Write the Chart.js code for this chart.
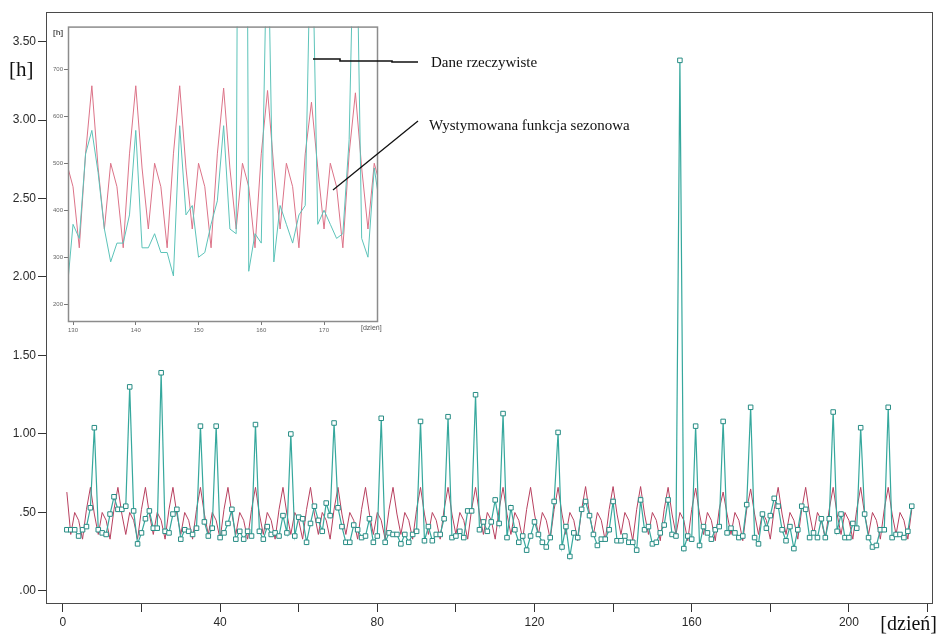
<!DOCTYPE html>
<html>
<head>
<meta charset="utf-8">
<script src="https://cdn.jsdelivr.net/npm/chart.js@4.4.1/dist/chart.umd.min.js"></script>
<style>
  html, body { margin: 0; padding: 0; background: #fff; }
  #wrap { position: relative; width: 940px; height: 637px; overflow: hidden; }
  #main { position: absolute; left: 0; top: 0; }
  #inset { position: absolute; left: 40px; top: 22px; }
  .lbl { position: absolute; white-space: nowrap; color: #111; font-family: "Liberation Serif", "Times New Roman", serif; }
  .small { font-family: "Liberation Sans", Arial, sans-serif; color: #555; }
  svg { position: absolute; left: 0; top: 0; }
</style>
</head>
<body>
<div id="wrap">
  <canvas id="main" width="940" height="637"></canvas>
  <canvas id="inset" width="340" height="318"></canvas>
  <svg width="940" height="637">
    <polyline points="313,59 340,59 340,61 392,61 392,62 418,62" fill="none" stroke="#111" stroke-width="1.6"/>
    <line x1="333" y1="190" x2="418" y2="121" stroke="#111" stroke-width="1.3"/>
  </svg>
  <div class="lbl" style="left:9px;top:57px;font-size:21px;">[h]</div>
  <div class="lbl" style="right:3px;top:612px;font-size:20px;">[dzień]</div>
  <div class="lbl" style="left:431px;top:54px;font-size:15px;">Dane rzeczywiste</div>
  <div class="lbl" style="left:429px;top:117px;font-size:15px;">Wystymowana funkcja sezonowa</div>
  <div class="lbl small" style="left:53px;top:28px;font-size:8px;font-weight:bold;">[h]</div>
  <div class="lbl small" style="left:361px;top:324px;font-size:7px;">[dzień]</div>
</div>
<script>
// dzien 1..216, czas [h]
const firstDay = 1;

// dane rzeczywiste (odczyt z wykresu)
const actual = [
  0.39, 0.39, 0.39, 0.35, 0.39, 0.41, 0.53, 1.04, 0.39, 0.37,
  0.36, 0.49, 0.60, 0.52, 0.52, 0.54, 1.30, 0.51, 0.30, 0.37,
  0.46, 0.51, 0.40, 0.40, 1.39, 0.38, 0.37, 0.49, 0.52, 0.33,
  0.39, 0.38, 0.36, 0.40, 1.05, 0.44, 0.35, 0.40, 1.05, 0.34,
  0.37, 0.43, 0.52, 0.33, 0.38, 0.33, 0.38, 0.35, 1.06, 0.38,
  0.33, 0.41, 0.36, 0.37, 0.35, 0.48, 0.37, 1.00, 0.35, 0.47,
  0.46, 0.31, 0.43, 0.54, 0.45, 0.38, 0.56, 0.48, 1.07, 0.53,
  0.41, 0.31, 0.31, 0.42, 0.39, 0.34, 0.35, 0.46, 0.31, 0.35,
  1.10, 0.31, 0.37, 0.36, 0.36, 0.30, 0.36, 0.31, 0.36, 0.38,
  1.08, 0.32, 0.41, 0.32, 0.36, 0.36, 0.46, 1.11, 0.34, 0.35,
  0.38, 0.34, 0.51, 0.51, 1.25, 0.39, 0.44, 0.38, 0.44, 0.58,
  0.43, 1.13, 0.34, 0.53, 0.39, 0.31, 0.35, 0.26, 0.35, 0.44,
  0.36, 0.31, 0.28, 0.34, 0.57, 1.01, 0.28, 0.41, 0.22, 0.37,
  0.34, 0.52, 0.57, 0.48, 0.36, 0.29, 0.33, 0.33, 0.39, 0.57,
  0.32, 0.32, 0.35, 0.31, 0.31, 0.26, 0.58, 0.39, 0.41, 0.30,
  0.31, 0.37, 0.42, 0.58, 0.36, 0.35, 3.38, 0.27, 0.35, 0.33,
  1.05, 0.29, 0.41, 0.37, 0.33, 0.39, 0.41, 1.08, 0.37, 0.40,
  0.37, 0.34, 0.35, 0.55, 1.17, 0.34, 0.30, 0.49, 0.40, 0.48,
  0.59, 0.54, 0.39, 0.32, 0.41, 0.27, 0.39, 0.54, 0.52, 0.34,
  0.37, 0.34, 0.46, 0.34, 0.46, 1.14, 0.38, 0.49, 0.34, 0.34,
  0.43, 0.40, 1.04, 0.49, 0.34, 0.28, 0.29, 0.39, 0.39, 1.17,
  0.34, 0.36, 0.36, 0.34, 0.38, 0.54
];

// wystymowana funkcja sezonowa (tydzien po tygodniu)
const seasonal = [
  0.63, 0.36, 0.50, 0.45, 0.33, 0.52, 0.66,
  0.49, 0.36, 0.50, 0.45, 0.33, 0.52, 0.66,
  0.49, 0.36, 0.50, 0.45, 0.33, 0.52, 0.66,
  0.49, 0.36, 0.50, 0.45, 0.33, 0.52, 0.66,
  0.49, 0.36, 0.50, 0.45, 0.33, 0.52, 0.66,
  0.49, 0.36, 0.50, 0.45, 0.33, 0.52, 0.66,
  0.49, 0.36, 0.50, 0.45, 0.33, 0.52, 0.66,
  0.49, 0.36, 0.50, 0.45, 0.33, 0.52, 0.66,
  0.49, 0.36, 0.50, 0.45, 0.33, 0.52, 0.66,
  0.49, 0.36, 0.50, 0.45, 0.33, 0.52, 0.66,
  0.49, 0.36, 0.50, 0.45, 0.33, 0.52, 0.66,
  0.49, 0.36, 0.50, 0.45, 0.33, 0.52, 0.66,
  0.49, 0.36, 0.50, 0.45, 0.33, 0.52, 0.66,
  0.49, 0.36, 0.50, 0.45, 0.33, 0.52, 0.66,
  0.49, 0.36, 0.50, 0.45, 0.33, 0.52, 0.66,
  0.49, 0.36, 0.50, 0.45, 0.33, 0.52, 0.66,
  0.49, 0.36, 0.50, 0.45, 0.33, 0.52, 0.66,
  0.49, 0.36, 0.50, 0.45, 0.33, 0.52, 0.66,
  0.49, 0.36, 0.50, 0.45, 0.32, 0.52, 0.665,
  0.49, 0.36, 0.50, 0.45, 0.32, 0.52, 0.665,
  0.49, 0.36, 0.50, 0.45, 0.32, 0.52, 0.665,
  0.49, 0.36, 0.50, 0.45, 0.32, 0.52, 0.66,
  0.49, 0.36, 0.50, 0.45, 0.32, 0.52, 0.655,
  0.49, 0.36, 0.50, 0.45, 0.32, 0.52, 0.63,
  0.49, 0.36, 0.50, 0.45, 0.32, 0.52, 0.65,
  0.49, 0.36, 0.50, 0.45, 0.33, 0.52, 0.66,
  0.49, 0.36, 0.50, 0.45, 0.33, 0.52, 0.66,
  0.49, 0.36, 0.50, 0.45, 0.33, 0.52, 0.66,
  0.49, 0.36, 0.50, 0.45, 0.33, 0.52, 0.66,
  0.49, 0.36, 0.50, 0.45, 0.33, 0.52, 0.66,
  0.49, 0.36, 0.50, 0.45, 0.33, 0.52
];

// os y wstawki w innych jednostkach
const insetFactor = 1000;

const framePlugin = {
  id: 'frame',
  afterDraw(chart, args, opts) {
    const { ctx, chartArea: a } = chart;
    ctx.save();
    ctx.strokeStyle = opts.color;
    ctx.lineWidth = opts.width;
    ctx.strokeRect(a.left + 0.5, a.top + 0.5, a.right - a.left - 1, a.bottom - a.top - 1);
    ctx.restore();
  }
};

const pts = (vals, k = 1) => vals.map((v, i) => ({ x: firstDay + i, y: v * k }));
const fmtH = v => v.toFixed(2).replace(/^0/, '');

new Chart(document.getElementById('main'), {
  type: 'line',
  data: {
    datasets: [
      {
        data: pts(actual),
        borderColor: '#36a89d',
        borderWidth: 1.2,
        pointStyle: 'rect',
        pointRadius: 3.2,
        pointBorderWidth: 1,
        pointBorderColor: '#278c84',
        pointBackgroundColor: '#ffffff',
        tension: 0,
      },
      {
        data: pts(seasonal),
        borderColor: '#b8405f',
        borderWidth: 1,
        pointRadius: 0,
        tension: 0,
      },
    ],
  },
  options: {
    responsive: false,
    animation: false,
    layout: { padding: { top: 12, right: 7, left: 0, bottom: 0 } },
    plugins: { legend: { display: false }, tooltip: { enabled: false }, frame: { color: '#4a4a4a', width: 1 } },
    scales: {
      x: {
        type: 'linear', min: -4.3, max: 221.4,
        afterFit: s => { s.height = 33; },
        border: { display: false },
        grid: { drawOnChartArea: false, drawTicks: true, tickLength: 8, tickColor: '#333', tickWidth: 1 },
        ticks: {
          stepSize: 20, includeBounds: false, autoSkip: false, maxRotation: 0, padding: 3,
          color: '#2a2a2a', font: { family: 'Liberation Sans, Arial, sans-serif', size: 12 },
          callback: v => (v % 40 === 0 ? String(v) : ''),
        },
      },
      y: {
        type: 'linear', min: -0.083, max: 3.688,
        afterFit: s => { s.width = 46; },
        border: { display: false },
        grid: { drawOnChartArea: false, drawTicks: true, tickLength: 8, tickColor: '#333', tickWidth: 1 },
        ticks: {
          stepSize: 0.5, includeBounds: false, padding: 2,
          color: '#2a2a2a', font: { family: 'Liberation Sans, Arial, sans-serif', size: 12 },
          callback: fmtH,
        },
      },
    },
  },
  plugins: [framePlugin],
});

new Chart(document.getElementById('inset'), {
  type: 'line',
  data: {
    datasets: [
      { data: pts(actual, insetFactor), borderColor: '#5cc3b9', borderWidth: 1, pointRadius: 0, tension: 0 },
      { data: pts(seasonal, insetFactor), borderColor: '#dc7388', borderWidth: 1, pointRadius: 0, tension: 0 },
    ],
  },
  options: {
    responsive: false,
    animation: false,
    layout: { padding: { top: 4, right: 2, left: 0, bottom: 0 } },
    plugins: { legend: { display: false }, tooltip: { enabled: false }, frame: { color: '#8c8c8c', width: 1.5 } },
    scales: {
      x: {
        type: 'linear', min: 129.2, max: 178.6,
        afterFit: s => { s.height = 18; },
        border: { display: false },
        grid: { drawOnChartArea: false, tickLength: 3, tickColor: '#777' },
        ticks: { stepSize: 10, includeBounds: false, maxRotation: 0, padding: 2, color: '#666', font: { family: 'Liberation Sans, Arial', size: 6 } },
      },
      y: {
        type: 'linear', min: 162, max: 791,
        afterFit: s => { s.width = 28; },
        border: { display: false },
        grid: { drawOnChartArea: false, tickLength: 4, tickColor: '#777' },
        ticks: { stepSize: 100, includeBounds: false, padding: 1, color: '#666', font: { family: 'Liberation Sans, Arial', size: 6 } },
      },
    },
  },
  plugins: [framePlugin],
});
</script>
</body>
</html>
